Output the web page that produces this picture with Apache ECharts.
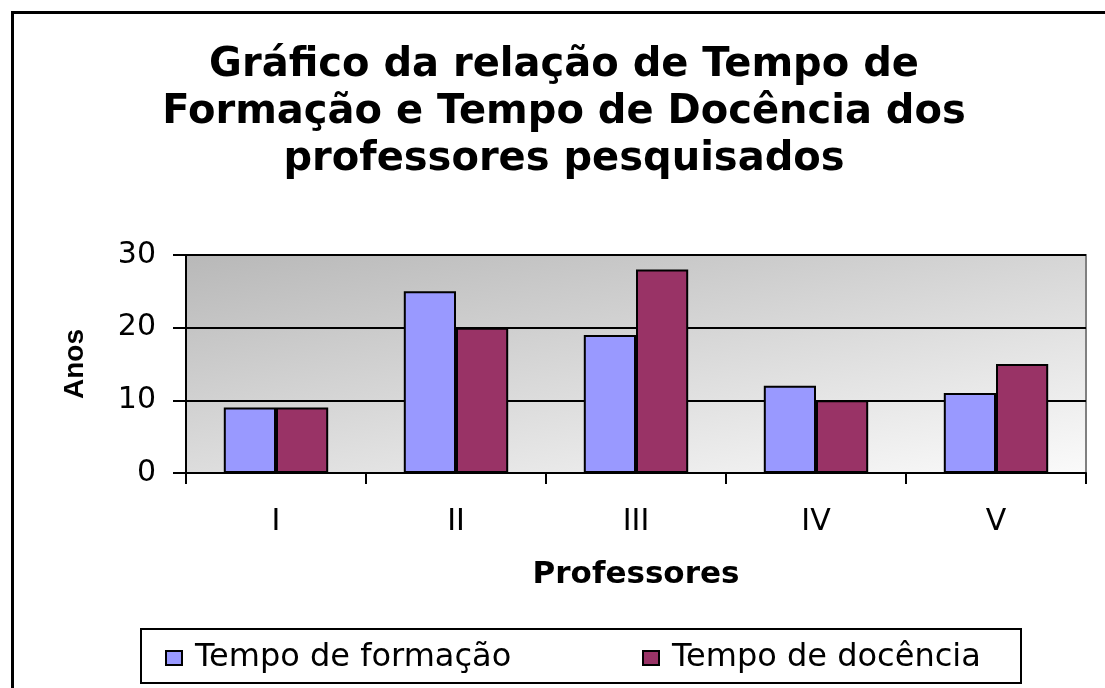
<!DOCTYPE html>
<html>
<head>
<meta charset="utf-8">
<script src="https://cdn.jsdelivr.net/npm/echarts@6/dist/echarts.min.js"></script>
<style>
html,body{margin:0;padding:0;background:#fff;}
#chart{width:1105px;height:688px;}
</style>
</head>
<body>
<div id="chart"></div>
<script>
// dados
var professores = ['I', 'II', 'III', 'IV', 'V'];
var tempoFormacao = [9, 25, 19, 12, 11];
var tempoDocencia = [9, 20, 28, 10, 15];
var yTicks = {min: 0, max: 30, interval: 10};

var fontFam = '"DejaVu Sans", "Liberation Sans", Arial, sans-serif';
var myChart = echarts.init(document.getElementById('chart'));

var legendText = {fontSize: 32, color: '#000', fontFamily: fontFam, padding: [0, 0, 0, 8]};
var legendIcon = {borderColor: '#000', borderWidth: 2};

var option = {
    backgroundColor: '#fff',
    animation: false,
    textStyle: {fontFamily: fontFam, color: '#000'},
    title: {
        text: 'Gráfico da relação de Tempo de\nFormação e Tempo de Docência dos\nprofessores pesquisados',
        left: 559,
        textAlign: 'center',
        top: 37,
        textStyle: {fontSize: 40, fontWeight: 'bold', lineHeight: 47, color: '#000', fontFamily: fontFam}
    },
    graphic: [
        // moldura externa
        {type: 'rect', left: 10, top: 10, shape: {width: 1200, height: 800}, style: {fill: 'none', stroke: '#000', lineWidth: 3}, silent: true},
        // caixa da legenda
        {type: 'rect', left: 140, top: 628, shape: {width: 880, height: 54}, style: {fill: '#fff', stroke: '#000', lineWidth: 2}, silent: true, z: -1}
    ],
    legend: [
        {
            left: 160, top: 637, icon: 'rect', itemWidth: 16, itemHeight: 14,
            itemStyle: legendIcon, textStyle: legendText,
            data: ['Tempo de formação']
        },
        {
            left: 637, top: 637, icon: 'rect', itemWidth: 16, itemHeight: 14,
            itemStyle: legendIcon, textStyle: legendText,
            data: ['Tempo de docência']
        }
    ],
    grid: {
        left: 186,
        right: 19,
        top: 255,
        bottom: 215,
        show: true,
        borderColor: '#808080',
        borderWidth: 2,
        backgroundColor: new echarts.graphic.LinearGradient(0, 0, 0.084, 1.75, [
            {offset: 0, color: '#b8b8b8'},
            {offset: 1, color: '#fbfbfb'}
        ])
    },
    xAxis: {
        type: 'category',
        data: professores,
        name: 'Professores',
        nameLocation: 'middle',
        nameGap: 86,
        nameTextStyle: {fontSize: 31, fontWeight: 'bold', color: '#000', fontFamily: fontFam},
        axisLine: {lineStyle: {color: '#000', width: 2}},
        axisTick: {show: true, length: 11, lineStyle: {color: '#000', width: 2}},
        axisLabel: {fontSize: 30, color: '#000', margin: 34, fontFamily: fontFam}
    },
    yAxis: {
        type: 'value',
        min: yTicks.min,
        max: yTicks.max,
        interval: yTicks.interval,
        name: 'Anos',
        nameLocation: 'middle',
        nameGap: 97,
        nameRotate: 90,
        nameTextStyle: {fontSize: 28, fontWeight: 'bold', color: '#000', fontFamily: '"Liberation Sans", Arial, sans-serif'},
        axisLine: {show: true, lineStyle: {color: '#000', width: 2}},
        axisTick: {show: true, length: 13, lineStyle: {color: '#000', width: 2}},
        axisLabel: {fontSize: 30, color: '#000', margin: 30, fontFamily: fontFam},
        splitLine: {show: true, lineStyle: {color: '#000', width: 2}}
    },
    series: [
        {
            name: 'Tempo de formação',
            type: 'bar',
            data: tempoFormacao,
            barGap: '0%',
            barCategoryGap: '42%',
            itemStyle: {color: '#9999FF', borderColor: '#000', borderWidth: 2}
        },
        {
            name: 'Tempo de docência',
            type: 'bar',
            data: tempoDocencia,
            itemStyle: {color: '#993366', borderColor: '#000', borderWidth: 2}
        }
    ]
};
myChart.setOption(option);
</script>
</body>
</html>
